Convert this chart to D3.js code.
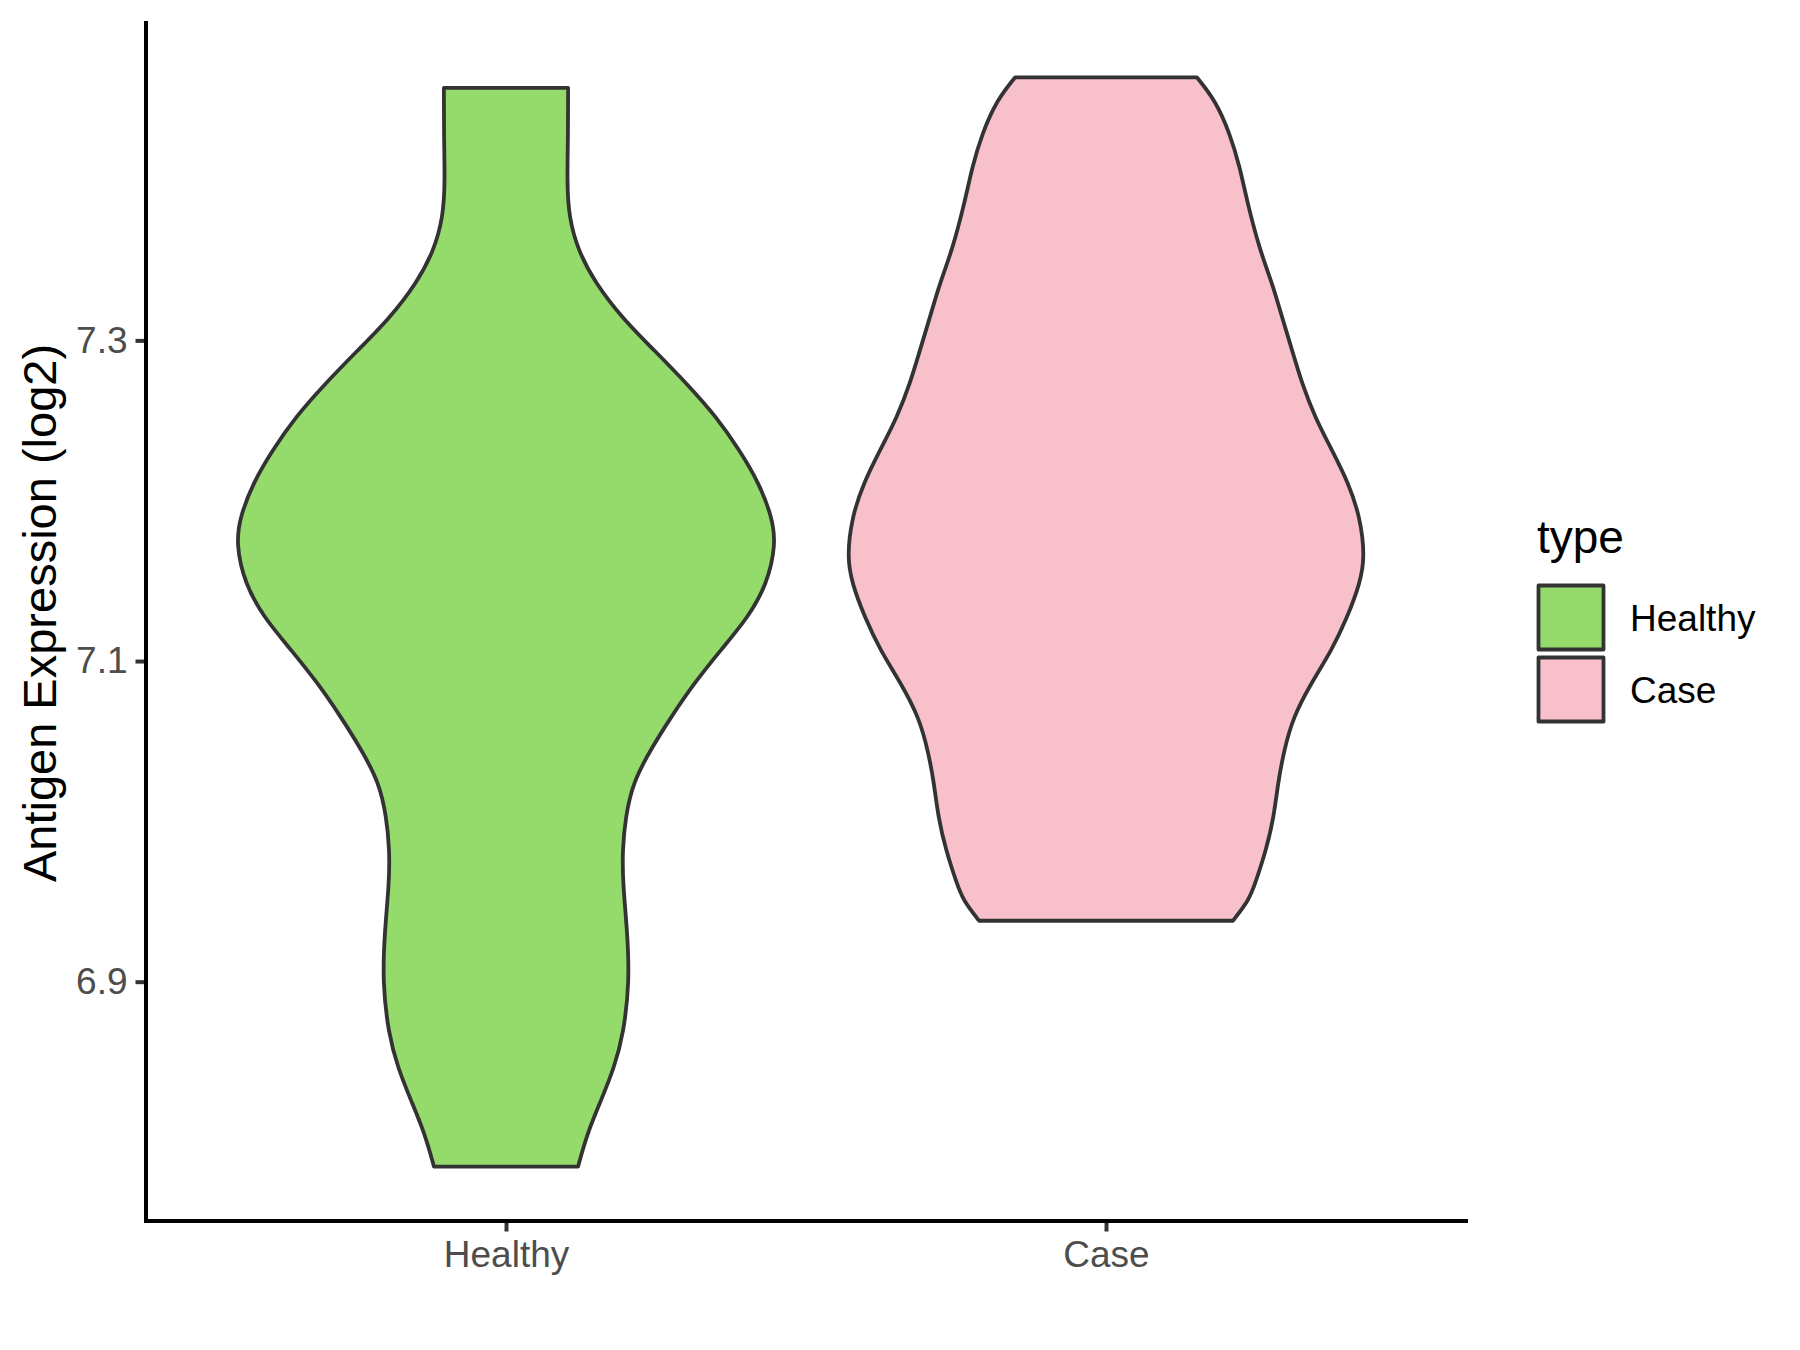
<!DOCTYPE html>
<html>
<head>
<meta charset="utf-8">
<script src="https://cdn.jsdelivr.net/npm/d3@7"></script>
<style>
  body { margin: 0; background: #fff; }
  text { font-family: 'Liberation Sans', Arial, sans-serif; }
</style>
</head>
<body>
<div id="chart"></div>
<script>
const types = ['Healthy', 'Case'];
const fills = ['#95DB6B', '#F7C0CB'];

// violin outlines: expression value and relative width (1 = widest)
const healthyValues = [7.4575, 7.429, 7.398, 7.377, 7.356, 7.336, 7.314, 7.294, 7.273, 7.252, 7.231, 7.211, 7.190, 7.173, 7.148, 7.127, 7.107, 7.086, 7.065, 7.044, 7.024, 7.003, 6.982, 6.961, 6.930, 6.900, 6.868, 6.846, 6.826, 6.805, 6.7847];
const healthyWidths = [0.230, 0.230, 0.226, 0.233, 0.267, 0.330, 0.430, 0.548, 0.670, 0.781, 0.867, 0.937, 0.985, 1.000, 0.967, 0.896, 0.796, 0.696, 0.611, 0.533, 0.470, 0.443, 0.431, 0.433, 0.450, 0.457, 0.436, 0.400, 0.352, 0.300, 0.267];

const caseValues = [7.464, 7.450, 7.429, 7.408, 7.387, 7.356, 7.336, 7.3145, 7.294, 7.273, 7.252, 7.2315, 7.211, 7.190, 7.165, 7.1485, 7.127, 7.107, 7.086, 7.065, 7.044, 7.024, 7.003, 6.982, 6.961, 6.951, 6.938];
const caseWidths = [0.337, 0.404, 0.459, 0.496, 0.522, 0.570, 0.615, 0.652, 0.689, 0.726, 0.774, 0.837, 0.898, 0.941, 0.959, 0.941, 0.893, 0.837, 0.759, 0.693, 0.659, 0.637, 0.622, 0.593, 0.552, 0.530, 0.470];

const yTicks = [6.9, 7.1, 7.3];

const width = 1800;
const height = 1350;
const margin = { left: 146, right: 1466, top: 23, bottom: 1221 };

const svg = d3.select('#chart').append('svg')
  .attr('width', width)
  .attr('height', height);

svg.append('rect').attr('width', width).attr('height', height).attr('fill', '#fff');

const groups = [
  { type: 'Healthy', values: healthyValues, widths: healthyWidths },
  { type: 'Case', values: caseValues, widths: caseWidths },
];

const allValues = healthyValues.concat(caseValues);
const [vmin, vmax] = d3.extent(allValues);
const pad = (vmax - vmin) * 0.05;

const y = d3.scaleLinear().domain([vmin - pad, vmax + pad]).range([margin.bottom, margin.top]);
const x = d3.scalePoint().domain(types).range([margin.left, margin.right]).padding(0.6);
const w = d3.scaleLinear().domain([0, 1]).range([0, x.step() * 0.45]);
const color = d3.scaleOrdinal().domain(types).range(fills);

// violins
groups.forEach((g) => {
  const pts = g.values.map((v, i) => ({ v, w: g.widths[i] }));
  const cx = x(g.type);
  const area = d3.area()
    .y((d) => y(d.v))
    .x0((d) => cx - w(d.w))
    .x1((d) => cx + w(d.w))
    .curve(d3.curveBasis);

  svg.append('path')
    .attr('d', area(pts))
    .attr('fill', color(g.type))
    .attr('stroke', '#333333')
    .attr('stroke-width', 3.8)
    .attr('stroke-linejoin', 'round');
});

// axes
const yAxis = d3.axisLeft(y).tickValues(yTicks).tickFormat(d3.format('.1f')).tickSize(10.5).tickPadding(8);
const xAxis = d3.axisBottom(x).tickSize(10.5).tickPadding(9);

const gy = svg.append('g').attr('transform', `translate(${margin.left},0)`).call(yAxis);
const gx = svg.append('g').attr('transform', `translate(0,${margin.bottom})`).call(xAxis);

[gx, gy].forEach((g) => {
  g.select('.domain').remove();
  g.selectAll('.tick line').attr('stroke', '#333333').attr('stroke-width', 4);
  g.selectAll('.tick text')
    .attr('fill', '#4D4D4D')
    .style('font-size', '37px')
    .style('font-family', "'Liberation Sans', Arial, sans-serif");
});
gx.selectAll('.tick text').attr('dy', '0.71em');

svg.append('path')
  .attr('d', `M${margin.left},${margin.top}V${margin.bottom}H${margin.right}`)
  .attr('fill', 'none')
  .attr('stroke', '#000')
  .attr('stroke-width', 4)
  .attr('stroke-linecap', 'square');

svg.append('text')
  .attr('transform', 'translate(56,613) rotate(-90)')
  .attr('text-anchor', 'middle')
  .style('font-size', '47px')
  .attr('fill', '#000')
  .text('Antigen Expression (log2)');

// legend
const legend = svg.append('g').attr('transform', 'translate(1537,553)');
legend.append('text')
  .style('font-size', '46px')
  .attr('fill', '#000')
  .text('type');

types.forEach((t, i) => {
  const ky = 31 + i * 72;
  legend.append('rect')
    .attr('x', 1.5)
    .attr('y', ky + 1.5)
    .attr('width', 65)
    .attr('height', 64)
    .attr('fill', color(t))
    .attr('stroke', '#333333')
    .attr('stroke-width', 3.8)
    .attr('stroke-linejoin', 'round');
  legend.append('text')
    .attr('x', 93)
    .attr('y', ky + 47)
    .style('font-size', '37px')
    .attr('fill', '#000')
    .text(t);
});
</script>
</body>
</html>
